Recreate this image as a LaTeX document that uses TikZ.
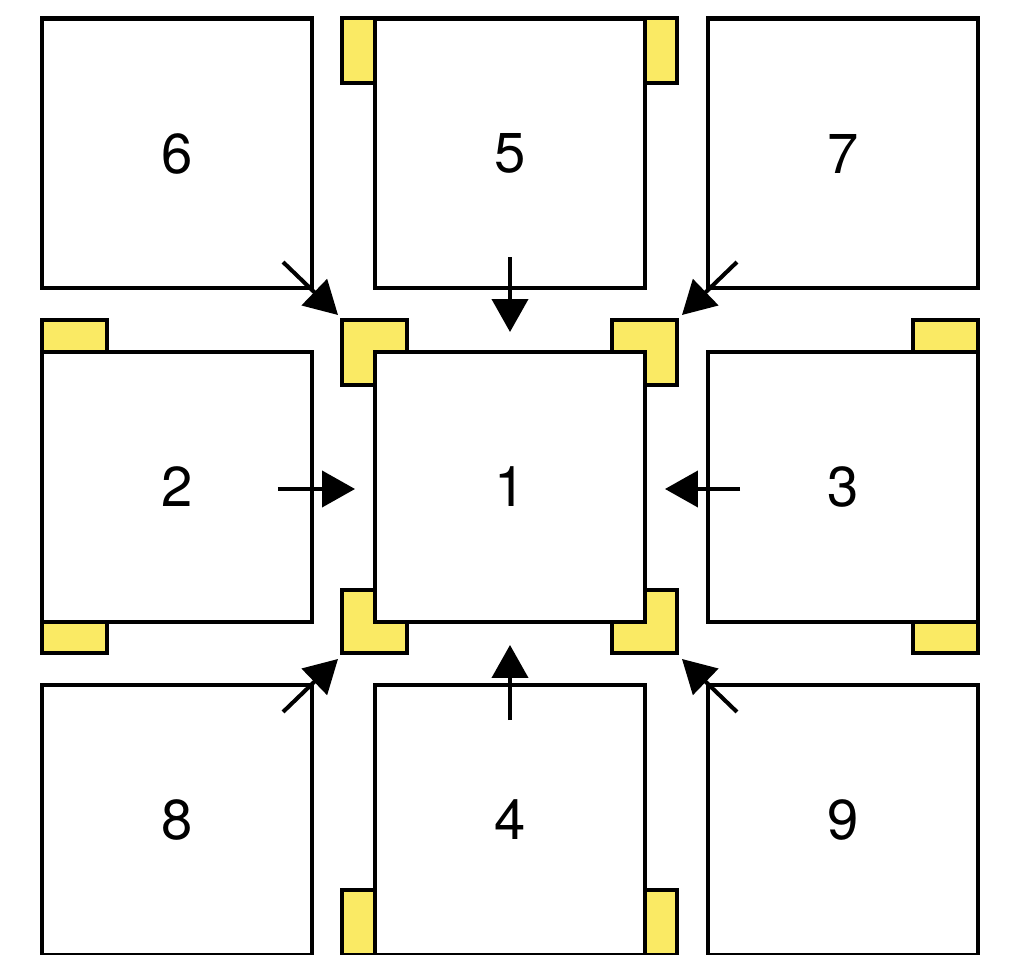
\documentclass[tikz,border=0pt]{standalone}
\usepackage{fontspec}
\setmainfont{TeX Gyre Heros}
\usepackage{tikz}
\usetikzlibrary{arrows.meta,positioning,calc}
\definecolor{padYellow}{RGB}{250,234,100}
\tikzset{
  cell/.style={draw=black, fill=white, line width=2.3pt, minimum width=5.4cm, minimum height=5.4cm,
               inner sep=0pt, outer sep=0pt, font=\fontsize{32}{34}\selectfont},
  pad/.style={draw=black, fill=padYellow, line width=2.3pt, line join=miter},
  push/.style={-{Triangle[length=6.6mm, width=7.2mm]}, line width=2.3pt}
}

\begin{document}
\begin{tikzpicture}[x=0.02cm, y=-0.02cm]
\useasboundingbox (0,0) rectangle (1015,955);
\draw[pad] (342,18) rectangle (375,83);
\draw[pad] (645,18) rectangle (677,83);
\draw[pad] (42,320) rectangle (107,352);
\draw[pad] (913,320) rectangle (978,352);
\draw[pad] (42,622) rectangle (107,653);
\draw[pad] (913,622) rectangle (978,653);
\draw[pad] (342,890) rectangle (375,955);
\draw[pad] (645,890) rectangle (677,955);
\draw[pad] (342,320) -- (407,320) -- (407,352) -- (375,352) -- (375,385) -- (342,385) -- cycle;
\draw[pad] (677,320) -- (612,320) -- (612,352) -- (645,352) -- (645,385) -- (677,385) -- cycle;
\draw[pad] (342,653) -- (407,653) -- (407,622) -- (375,622) -- (375,590) -- (342,590) -- cycle;
\draw[pad] (677,653) -- (612,653) -- (612,622) -- (645,622) -- (645,590) -- (677,590) -- cycle;
\node[cell] (c6) at (177,153.5) {6};
\node[cell] (c5) at (510,153.5) {5};
\node[cell] (c7) at (843,153.5) {7};
\node[cell] (c2) at (177,487) {2};
\node[cell] (c1) at (510,487) {1};
\node[cell] (c3) at (843,487) {3};
\node[cell] (c8) at (177,820) {8};
\node[cell] (c4) at (510,820) {4};
\node[cell] (c9) at (843,820) {9};
\coordinate (fromNW) at ($(c1.north west)+(-92,-90)$);
\coordinate (toNW) at ($(c1.north west)+(-37,-37)$);
\coordinate (fromNE) at ($(c1.north east)+(92,-90)$);
\coordinate (toNE) at ($(c1.north east)+(37,-37)$);
\coordinate (fromSW) at ($(c1.south west)+(-92,90)$);
\coordinate (toSW) at ($(c1.south west)+(-37,37)$);
\coordinate (fromSE) at ($(c1.south east)+(92,90)$);
\coordinate (toSE) at ($(c1.south east)+(37,37)$);
\coordinate (fromN) at ($(c5.south)+(0,-31)$);
\coordinate (toN) at ($(c1.north)+(0,-20)$);
\coordinate (fromS) at ($(c4.north)+(0,35)$);
\coordinate (toS) at ($(c1.south)+(0,23)$);
\coordinate (fromW) at ($(c2.east)+(-34,2)$);
\coordinate (toW) at ($(c1.west)+(-20,2)$);
\coordinate (fromE) at ($(c3.west)+(32,2)$);
\coordinate (toE) at ($(c1.east)+(20,2)$);
\draw[push] (fromNW) -- (toNW);
\draw[push] (fromNE) -- (toNE);
\draw[push] (fromSW) -- (toSW);
\draw[push] (fromSE) -- (toSE);
\draw[push] (fromN) -- (toN);
\draw[push] (fromS) -- (toS);
\draw[push] (fromW) -- (toW);
\draw[push] (fromE) -- (toE);
\end{tikzpicture}
\end{document}
